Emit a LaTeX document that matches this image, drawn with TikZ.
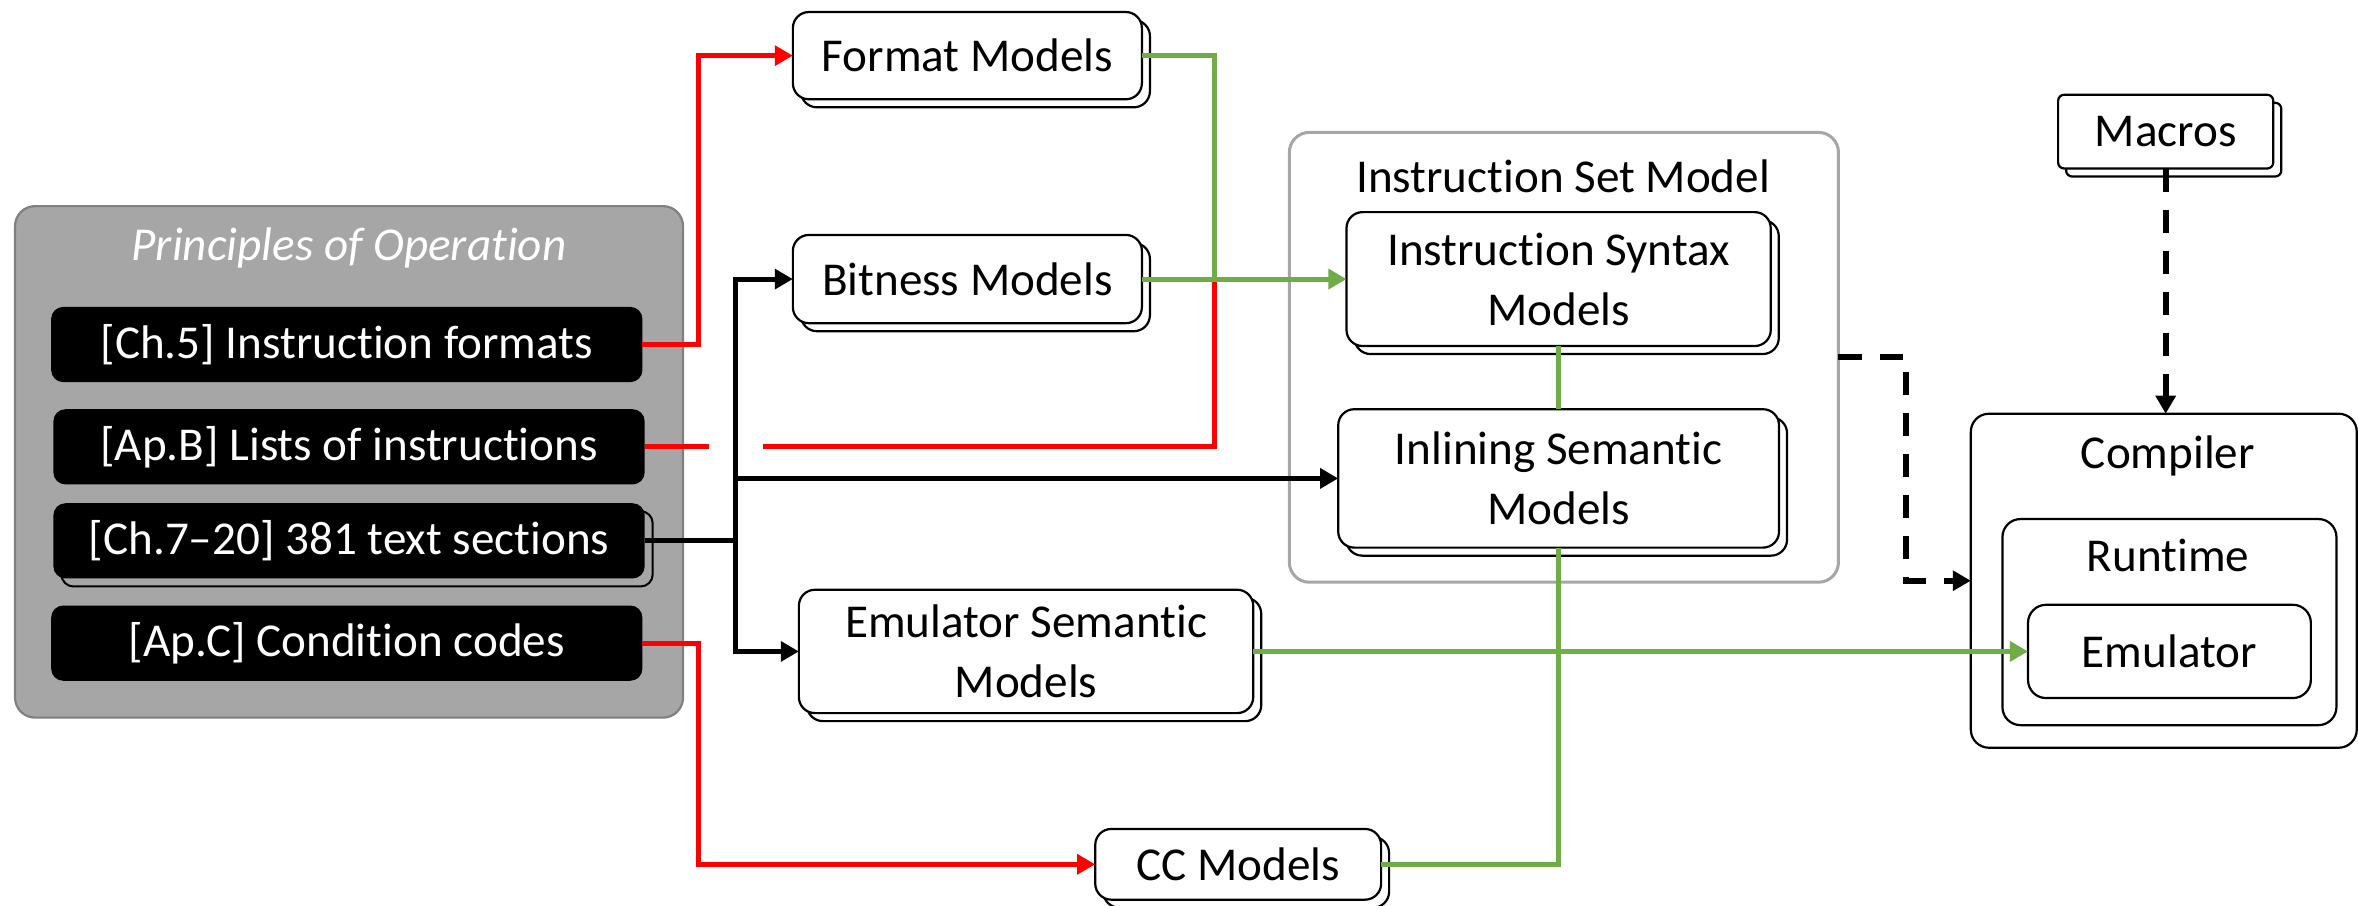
\documentclass[tikz,border=0pt]{standalone}
\usepackage{fontspec}
\setmainfont{Carlito}[Ligatures={NoCommon}]
\usetikzlibrary{arrows.meta,shadows,calc}

\definecolor{lineGreen}{HTML}{70AD47}
\definecolor{poFill}{HTML}{A6A6A6}
\definecolor{poEdge}{HTML}{808080}
\definecolor{ismEdge}{HTML}{A6A6A6}

\begin{document}
\begin{tikzpicture}[x=0.75pt,y=-0.75pt,
  every node/.style={font=\fontsize{23.5}{30}\selectfont, inner sep=0pt, outer sep=0pt},
  tip/.style={-{Triangle[length=9pt,width=9.75pt]}},
  model/.style={draw=black, line width=1.1pt, fill=white, rounded corners=8pt, align=center,
    copy shadow={shadow xshift=4pt, shadow yshift=-4pt, fill=white, draw=black, line width=1.1pt}},
  srcbox/.style={fill=black, text=white, rounded corners=6pt,
    minimum width=294.75pt, minimum height=37.5pt},
  frame/.style={draw=black, line width=1.1pt, fill=white, rounded corners=9pt},
  redline/.style={draw=red, line width=2.5pt},
  greenline/.style={draw=lineGreen, line width=2.5pt},
  blackline/.style={draw=black, line width=2.5pt},
  dashline/.style={draw=black, line width=3pt, dash pattern=on 11.5pt off 9pt},
]
\useasboundingbox (0,0) rectangle (1568,602);

% ---- source document ----
\node[draw=poEdge, line width=1.1pt, fill=poFill, rounded corners=10pt,
      minimum width=333pt, minimum height=255pt] (po) at (232,307) {};
\node[text=white, font=\fontsize{23.5}{30}\selectfont\itshape] (potitle) at (232,165) {Principles of Operation};
\node[srcbox] (b1) at (230.5,229) {[Ch.5] Instruction formats};
\node[srcbox] (b2) at (232,297) {[Ap.B] Lists of instructions};
\node[srcbox, copy shadow={shadow xshift=4pt, shadow yshift=-4pt, fill=poFill, draw=black, line width=1pt}]
      (b3) at (232,359.5) {[Ch.7–20] 381 text sections};
\node[srcbox] (b4) at (230.5,427.5) {[Ap.C] Condition codes};

% ---- extracted models ----
\node[model, minimum width=174pt, minimum height=43.5pt] (fmt) at (643,37) {Format Models};
\node[model, minimum width=174pt, minimum height=44pt] (bit) at (643,185.5) {Bitness Models};
\node[model, minimum width=226.5pt, minimum height=61.5pt] (ems) at (682,433) {Emulator Semantic\\Models};
\node[model, minimum width=142.5pt, minimum height=35.25pt] (cc) at (823,574.5) {CC Models};

% ---- instruction set model ----
\node[draw=ismEdge, line width=1.5pt, fill=white, rounded corners=10pt,
      minimum width=273.75pt, minimum height=224.25pt] (ism) at (1039.5,237.5) {};
\node (ismtitle) at (1039,117) {Instruction Set Model};
\node[model, minimum width=211.5pt, minimum height=66.75pt] (syn) at (1036,185.5) {Instruction Syntax\\Models};
\node[model, minimum width=219.75pt, minimum height=69pt] (inl) at (1036,318) {Inlining Semantic\\Models};

% ---- compiler side ----
\node[model, rounded corners=3pt, minimum width=107.25pt, minimum height=36.75pt] (mac) at (1439.5,87.5) {Macros};
\node[frame, minimum width=192.4pt, minimum height=166.5pt] (comp) at (1438.25,386) {};
\node (comptitle) at (1441,303) {Compiler};
\node[frame, minimum width=166.5pt, minimum height=102.75pt] (rt) at (1442,413.5) {};
\node (rttitle) at (1441,369) {Runtime};
\node[frame, minimum width=141pt, minimum height=46.5pt] (emu) at (1442,433) {Emulator};

% ---- routing coordinates ----
\coordinate (rx) at (464,0);
\coordinate (jx) at (489,0);
\coordinate (gx) at (807,0);
\coordinate (gapL) at (471,0);
\coordinate (gapR) at (507,0);
\coordinate (dx) at (1267,0);

% red: formats, instruction lists, condition codes
\draw[redline, tip] (b1.east) -| (rx |- fmt.west) -- (fmt.west);
\draw[redline] (b2.east) -- (gapL |- b2.east);
\draw[redline] (gapR |- b2.east) -| (gx |- bit.east);
\draw[redline, tip] (b4.east) -| (rx |- cc.west) -- (cc.west);

% black: text sections
\draw[blackline, tip] (b3.east) -| (jx |- bit.west) -- (bit.west);
\draw[blackline, tip] (jx |- b3.east) |- (ems.west);
\draw[blackline, tip] (jx |- inl.west) -- (inl.west);

% green: model flow
\draw[greenline] (fmt.east) -| (gx |- bit.east);
\draw[greenline, tip] (bit.east) -- (syn.west);
\draw[greenline] (syn.south) -- (syn.south |- inl.north);
\draw[greenline] (cc.east) -| (inl.south);
\draw[greenline, tip] (ems.east) -- (emu.west);

% dashed: into the compiler
\draw[dashline, tip] (ism.east) -| (dx |- comp.west) -- (comp.west);
\draw[dashline, tip] (mac.south) -- (mac.south |- comp.north);
\end{tikzpicture}
\end{document}
